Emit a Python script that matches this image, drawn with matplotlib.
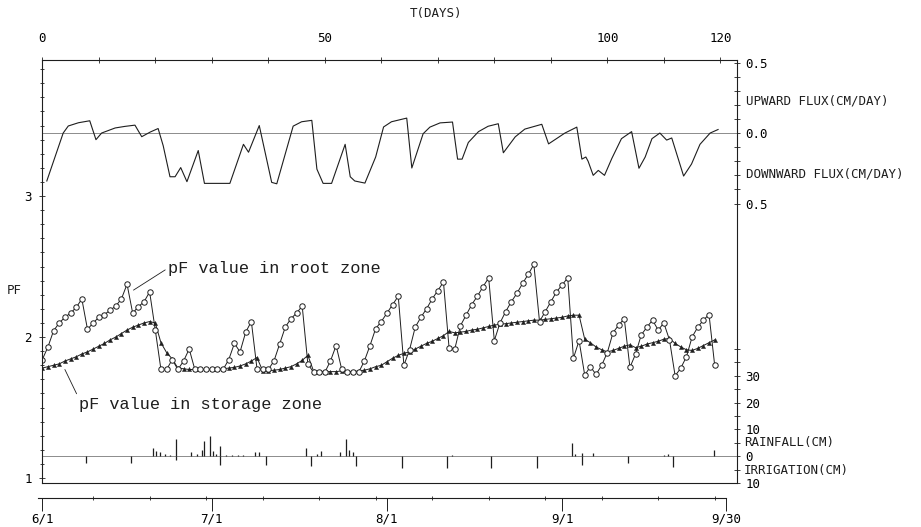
import matplotlib
matplotlib.use("Agg")
import matplotlib.pyplot as plt
import matplotlib.transforms as mtransforms
import numpy as np

# ---------------- data ----------------
days = list(range(120))
root_pf = [1.84, 1.93, 2.045, 2.10, 2.14, 2.17, 2.21, 2.27, 2.055, 2.10,
           2.14, 2.16, 2.19, 2.22, 2.27, 2.375, 2.17, 2.215, 2.25, 2.32,
           2.05, 1.77, 1.77, 1.84, 1.77, 1.83, 1.915, 1.77, 1.77, 1.77,
           1.77, 1.77, 1.77, 1.84, 1.955, 1.895, 2.035, 2.11, 1.775, 1.77,
           1.77, 1.83, 1.95, 2.07, 2.13, 2.17, 2.22, 1.81, 1.75, 1.75,
           1.75, 1.83, 1.94, 1.77, 1.75, 1.75, 1.75, 1.83, 1.94, 2.06,
           2.11, 2.17, 2.23, 2.29, 1.80, 1.91, 2.07, 2.14, 2.20, 2.27,
           2.33, 2.39, 1.92, 1.915, 2.08, 2.155, 2.23, 2.29, 2.357, 2.42,
           1.975, 2.10, 2.18, 2.25, 2.31, 2.38, 2.445, 2.515, 2.11, 2.18,
           2.25, 2.32, 2.37, 2.42, 1.85, 1.975, 1.73, 1.79, 1.735, 1.80,
           1.89, 2.03, 2.085, 2.13, 1.785, 1.88, 2.015, 2.07, 2.12, 2.05,
           2.10, 1.98, 1.725, 1.78, 1.86, 2.00, 2.07, 2.12, 2.16, 1.80]
storage_pf = [1.78, 1.79, 1.80, 1.81, 1.83, 1.845, 1.86, 1.88, 1.895, 1.915,
              1.935, 1.955, 1.98, 2.00, 2.025, 2.05, 2.07, 2.085, 2.10, 2.11,
              2.10, 1.96, 1.89, 1.845, 1.78, 1.775, 1.77, 1.77, 1.77, 1.77,
              1.77, 1.77, 1.775, 1.78, 1.785, 1.795, 1.81, 1.83, 1.855, 1.76,
              1.76, 1.765, 1.77, 1.78, 1.79, 1.81, 1.835, 1.87, 1.76, 1.755,
              1.755, 1.755, 1.755, 1.76, 1.755, 1.755, 1.76, 1.765, 1.775, 1.79,
              1.80, 1.825, 1.85, 1.87, 1.885, 1.895, 1.915, 1.935, 1.955, 1.97,
              1.99, 2.01, 2.04, 2.03, 2.035, 2.04, 2.05, 2.055, 2.065, 2.075,
              2.085, 2.09, 2.095, 2.10, 2.105, 2.11, 2.115, 2.12, 2.12, 2.125,
              2.13, 2.135, 2.14, 2.15, 2.155, 2.155, 1.985, 1.96, 1.93, 1.91,
              1.895, 1.905, 1.92, 1.935, 1.945, 1.925, 1.935, 1.95, 1.96, 1.97,
              1.985, 1.99, 1.955, 1.93, 1.91, 1.905, 1.92, 1.94, 1.96, 1.98]

flux_day = [0.8, 3.7, 4.6, 6.4, 8.4, 9.5, 10.5, 12.9, 14.6, 16.4,
            17.6, 19.1, 20.5, 21.4, 22.6, 23.5, 24.5, 25.6, 27.6, 28.7,
            33.2, 35.6, 36.5, 38.4, 40.6, 41.5, 44.4, 45.9, 47.7, 48.6,
            49.7, 51.2, 53.6, 54.5, 55.3, 57.1, 59.0, 60.4, 61.8, 64.5,
            65.4, 67.4, 68.6, 70.4, 72.6, 73.5, 74.3, 75.4, 77.2, 78.9,
            80.7, 81.6, 83.7, 85.4, 88.4, 89.6, 92.5, 94.6, 95.5, 96.2,
            96.6, 97.5, 98.4, 99.5, 100.8, 102.5, 104.3, 105.6, 106.7, 107.9,
            109.3, 110.5, 111.4, 113.5, 114.9, 116.4, 118.2, 119.6]
flux_val = [-0.34, 0.0, 0.05, 0.073, 0.087, -0.047, 0.0, 0.036, 0.047, 0.056,
            -0.026, 0.007, 0.032, -0.09, -0.31, -0.31, -0.245, -0.345, -0.124, -0.357,
            -0.357, -0.08, -0.136, 0.053, -0.35, -0.36, 0.049, 0.08, 0.09, -0.256,
            -0.357, -0.357, -0.08, -0.31, -0.34, -0.355, -0.17, 0.043, 0.08, 0.106,
            -0.248, -0.005, 0.042, 0.072, 0.078, -0.185, -0.185, -0.067, 0.01, 0.048,
            0.066, -0.14, -0.027, 0.028, 0.062, -0.077, 0.0, 0.042, -0.185, -0.17,
            -0.2, -0.30, -0.265, -0.30, -0.18, -0.04, 0.01, -0.25, -0.17, -0.04,
            0.0, -0.05, -0.035, -0.305, -0.22, -0.08, 0.0, 0.025]

rain_day = [19.6, 20.1, 20.9, 21.7, 22.6, 23.6, 26.4, 27.3, 28.2, 28.6,
            29.6, 30.3, 30.7, 31.5, 32.6, 33.6, 34.6, 35.6, 37.6, 38.3,
            46.7, 48.6, 49.4, 52.7, 53.8, 54.3, 55.0, 72.5, 93.7, 94.3,
            95.5, 97.5, 110.0, 110.8, 118.9]
rain_cm = [3.0, 2.1, 1.5, 1.0, 0.3, 6.3, 1.5, 0.8, 2.5, 5.7,
           7.5, 2.1, 1.0, 3.9, 0.3, 0.3, 0.3, 0.3, 1.5, 1.7,
           3.2, 1.0, 2.0, 1.5, 6.5, 2.5, 1.5, 0.5, 5.0, 0.7,
           1.2, 1.2, 0.4, 0.8, 2.5]
irr_day = [7.8, 15.7, 23.6, 31.5, 39.6, 47.6, 55.6, 63.6, 71.6, 79.5,
           87.6, 95.5, 103.7, 111.7]
irr_cm = [2.4, 2.6, 1.4, 3.2, 3.2, 3.6, 3.6, 4.4, 4.5, 4.3,
          4.3, 3.1, 2.6, 4.0]

top_ticks = [0, 50, 100, 120]
date_pos = [0, 30, 61, 92, 121]
date_labels = ["6/1", "7/1", "8/1", "9/1", "9/30"]

# scale placement of the flux and rainfall panels on the pF axis
FLUX0 = 3.447
RAIN0 = 1.155
RAINK = 0.019

INK = "#1e1e1e"
GREY = "#8c8c8c"
plt.rcParams["font.family"] = ["DejaVu Sans Mono"]
plt.rcParams["font.size"] = 9
plt.rcParams["text.color"] = INK

fig = plt.figure(figsize=(9.21, 5.27), dpi=100)
ax = fig.add_axes([42 / 921, 1 - 483 / 527, 695 / 921, 423 / 527])
ax.set_xlim(-0.05, 122.95)
ax.set_ylim(0.965, 3.965)

for s in ax.spines.values():
    s.set_color(INK)
    s.set_linewidth(0.8)

# reference lines
ax.axhline(FLUX0, color=GREY, lw=0.7)
ax.axhline(RAIN0, color=GREY, lw=0.7)

# flux curve
ax.plot(flux_day, np.array(flux_val) + FLUX0, color=INK, lw=0.8)

# rain / irrigation
ax.vlines(rain_day, RAIN0, RAIN0 + RAINK * np.array(rain_cm), color=INK, lw=0.9)
ax.vlines(irr_day, RAIN0, RAIN0 - RAINK * np.array(irr_cm), color=INK, lw=0.9)

# pF curves
ax.plot(days, storage_pf, "-^", color=INK, lw=0.7, ms=3.0, mew=0.3)
ax.plot(days, root_pf, "-o", color=INK, lw=0.7, ms=3.9, mfc="white",
        mec=INK, mew=0.7)

# annotations
ax.annotate("pF value in root zone", xy=(16.14, 2.333), xytext=(22.25, 2.489),
            fontfamily="Liberation Mono", fontsize=12.2, va="center", ha="left",
            color=INK,
            arrowprops=dict(arrowstyle="-", color=INK, lw=0.6, shrinkA=0,
                            shrinkB=0, relpos=(0, 0.5)))
ax.annotate("pF value in storage zone", xy=(4.0, 1.77), xytext=(6.5, 1.525),
            fontfamily="Liberation Mono", fontsize=12.2, va="center", ha="left",
            color=INK,
            arrowprops=dict(arrowstyle="-", color=INK, lw=0.6, shrinkA=0,
                            shrinkB=0, relpos=(0, 0.85)))

# left pF axis
ax.set_yticks([1, 2, 3])
ax.set_yticklabels(["1", "2", "3"])
ax.set_yticks(np.arange(1.0, 3.95, 0.1), minor=True)
ax.tick_params(axis="y", which="both", direction="inout", color=INK,
               width=0.6, right=False)
ax.tick_params(axis="y", which="major", length=5, pad=5)
ax.tick_params(axis="y", which="minor", length=3)

# top day axis
ax.xaxis.set_ticks_position("top")
ax.xaxis.set_label_position("top")
ax.set_xticks(top_ticks)
ax.set_xticklabels([str(t) for t in top_ticks])
ax.set_xticks(np.arange(0, 121, 10), minor=True)
ax.tick_params(axis="x", which="both", direction="inout", length=4,
               width=0.6, color=INK, pad=9)

# bottom date axis
sec = ax.secondary_xaxis(-15 / 423)
sec.set_xticks(date_pos)
sec.set_xticklabels(date_labels)
sec.set_xticks(np.arange(-1, 121, 10), minor=True)
sec.tick_params(which="major", direction="out", length=9.5, width=0.7,
                color=INK, pad=1)
sec.tick_params(which="minor", direction="inout", length=3, width=0.6,
                color=INK)
sec.spines["bottom"].set_bounds(-0.8, 121)
sec.spines["bottom"].set_color(INK)
sec.spines["bottom"].set_linewidth(0.8)

# right flux scale
sf = ax.secondary_yaxis("right", functions=(lambda p: p - FLUX0,
                                            lambda f: f + FLUX0))
fticks = np.round(np.arange(-0.5, 0.51, 0.1), 2)
sf.set_yticks(fticks)
sf.set_yticklabels(["0.5" if abs(t) == 0.5 else ("0.0" if t == 0 else "")
                    for t in fticks])
sf.tick_params(direction="inout", length=4, width=0.6, color=INK, pad=4)
sf.spines["right"].set_visible(False)

# right rainfall / irrigation scale
sr = ax.secondary_yaxis("right", functions=(lambda p: (p - RAIN0) / RAINK,
                                            lambda r: RAIN0 + RAINK * r))
rticks = np.arange(-10, 41, 5)
sr.set_yticks(rticks)
sr.set_yticklabels([str(abs(t)) if t in (-10, 0, 10, 20, 30) else ""
                    for t in rticks])
sr.tick_params(direction="inout", length=4, width=0.6, color=INK, pad=4)
sr.spines["right"].set_visible(False)

tr = mtransforms.blended_transform_factory(ax.transAxes, ax.transData)
ax.text(1.013, FLUX0 + 0.23, "UPWARD FLUX(CM/DAY)", transform=tr,
        va="center", ha="left")
ax.text(1.013, FLUX0 - 0.29, "DOWNWARD FLUX(CM/DAY)", transform=tr,
        va="center", ha="left")
ax.text(1.010, RAIN0 + RAINK * 5, "RAINFALL(CM)", transform=tr,
        va="center", ha="left")
ax.text(1.010, RAIN0 - RAINK * 5.5, "IRRIGATION(CM)", transform=tr,
        va="center", ha="left")

fig.text(436 / 921, 1 - 14 / 527, "T(DAYS)", ha="center", va="center")
fig.text(14 / 921, 1 - 290 / 527, "PF", ha="center", va="center")

fig.savefig("out.png", dpi=100)
